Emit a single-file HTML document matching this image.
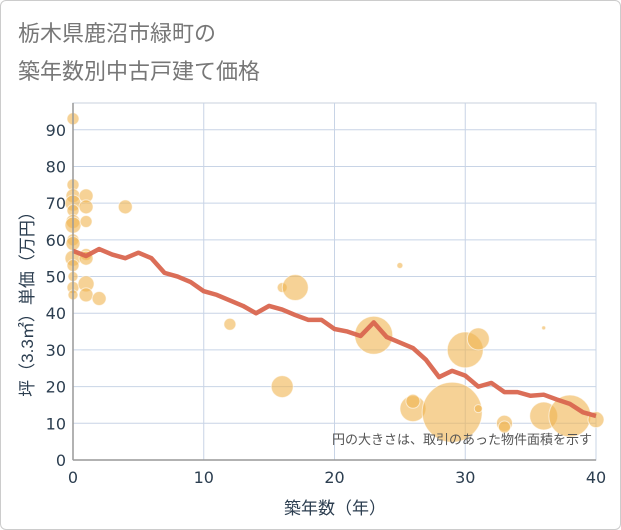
<!DOCTYPE html>
<html><head><meta charset="utf-8"><style>
body{margin:0;background:#fff;font-family:"DejaVu Sans","Noto Sans CJK JP",sans-serif;}
#card{position:absolute;left:0;top:0;width:619px;height:528px;border:1px solid #ccc;border-radius:6px;background:#fff;}
</style></head><body>
<div id="card">
<svg id="chart" width="621" height="530" style="position:absolute;left:-1px;top:-1px">
<text x="18" y="41" font-size="22" fill="#777" font-family="Liberation Sans, Noto Sans CJK JP, sans-serif">栃木県鹿沼市緑町の</text>
<text x="18" y="79" font-size="22" fill="#777" font-family="Liberation Sans, Noto Sans CJK JP, sans-serif">築年数別中古戸建て価格</text>
<g id="grid"></g><g id="bubbles"></g><g id="line"></g><g id="axes"></g>
<text x="592" y="444" font-size="13" fill="#555" text-anchor="end" font-family="Liberation Sans, Noto Sans CJK JP, sans-serif">円の大きさは、取引のあった物件面積を示す</text>
<text x="335" y="514" font-size="17" fill="#2c3e50" text-anchor="middle" font-family="Liberation Sans, Noto Sans CJK JP, sans-serif">築年数（年）</text>
<text transform="translate(33,300) rotate(-90)" font-size="17" fill="#2c3e50" text-anchor="middle" font-family="Liberation Sans, Noto Sans CJK JP, sans-serif">坪（3.3㎡）単価（万円）</text>
</svg></div>
<script>
const xTicks=[0,10,20,30,40];
const yTicks=[0,10,20,30,40,50,60,70,80,90];
const lineYears=[0,1,2,3,4,5,6,7,8,9,10,11,12,13,14,15,16,17,18,19,20,21,22,23,24,25,26,27,28,29,30,31,32,33,34,35,36,37,38,39,40];
const lineValues=[57,55.6,57.5,56,55,56.5,55,51,50,48.5,46,45,43.5,42,40,42,41,39.5,38.2,38.2,35.7,35,33.8,37.5,33.5,32,30.5,27.3,22.6,24.3,23,20,21,18.5,18.5,17.5,17.8,16.5,15.3,13,12];
const bubbleX=[0,0,0,0,0,0,0,0,0,0,0,0,0,0,1,1,1,1,1,1,1,2,4,12,16,17,16,23,25,26,26,29,30,31,31,33,33,36,36,38,40];
const bubbleY=[93,75,72,70,68,65,64,60,59,55,53,50,47,45,72,69,65,56,55,48,45,44,69,37,47,47,20,34,53,14,16,13,30,33,14,10,9,36,12,12,11];
const bubbleR=[6,6,7,8,6,7,8,6,7,8,6,5,6,5,7,7,6,6,7,8,7,7,7,6,5,13,11,19,3,13,7,30,18,11,4,8,6,2,14,21,8];
const L=73,R=596,T=103,B=460;
const sx=v=>L+(R-L)*v/40, sy=v=>B-(B-T)*v/97.3;
const NS="http://www.w3.org/2000/svg";
function mk(t,a,p){const e=document.createElementNS(NS,t);for(const k in a)e.setAttribute(k,a[k]);p.appendChild(e);return e;}
const grid=document.getElementById('grid'),axes=document.getElementById('axes');
mk('rect',{x:L,y:T,width:R-L,height:B-T,fill:'#fff',stroke:'#c8d0dc'},grid);
yTicks.forEach(v=>{const l=mk('line',{x1:L,x2:R,y1:sy(v),y2:sy(v),stroke:'#c8d4e6','stroke-width':1},grid);

const t=mk('text',{x:L-7,y:sy(v)+6,'font-size':16,fill:'#2c3e50','text-anchor':'end'},axes);t.textContent=v;
});
xTicks.forEach(v=>{const l=mk('line',{x1:sx(v),x2:sx(v),y1:T,y2:B,stroke:'#c8d4e6','stroke-width':1},grid);

const t=mk('text',{x:sx(v),y:B+23,'font-size':16,fill:'#2c3e50','text-anchor':'middle'},axes);t.textContent=v;
});
mk('line',{x1:L,x2:L,y1:T,y2:B,stroke:'#999','stroke-width':1.5},axes);
mk('line',{x1:L,x2:R,y1:B,y2:B,stroke:'#999','stroke-width':1.5},axes);
const bg=document.getElementById('bubbles');
bubbleX.forEach((x,i)=>{const c=mk('circle',{cx:sx(x),cy:sy(bubbleY[i]),r:bubbleR[i],fill:'rgba(240,180,80,0.6)',stroke:'rgba(255,255,255,0.6)','stroke-width':1},bg);
});
const pts=lineYears.map((x,i)=>sx(x)+','+sy(lineValues[i])).join(' ');
const pl=mk('polyline',{points:pts,fill:'none',stroke:'#d9664f','stroke-width':4.5,'stroke-linejoin':'round','stroke-opacity':0.95},document.getElementById('line'));

</script>
</body></html>
